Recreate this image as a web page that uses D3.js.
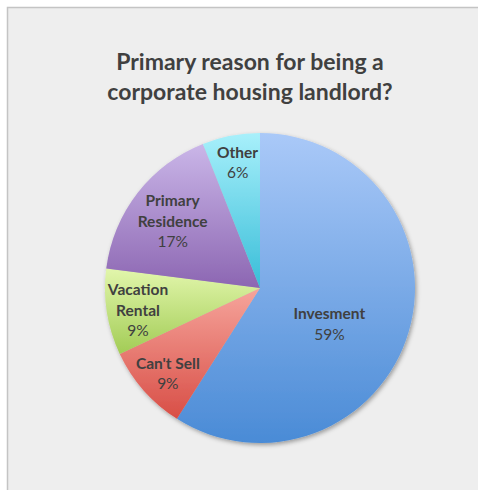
<!DOCTYPE html>
<html><head><meta charset="utf-8">
<script src="https://cdn.jsdelivr.net/npm/d3@7"></script>
<style>html,body{margin:0;padding:0;background:#fff;}svg{display:block;}</style>
</head><body>
<script>
const categories = ["Invesment", "Can't Sell", "Vacation Rental", "Primary Residence", "Other"];
const labelLines = [["Invesment"], ["Can't Sell"], ["Vacation", "Rental"], ["Primary", "Residence"], ["Other"]];
const values = [59, 9, 9, 17, 6];
const percentLabels = ["59%", "9%", "9%", "17%", "6%"];
const colorTop = ["#aac9f8", "#f6a59c", "#e2f6ac", "#cab6e8", "#a8f0fb"];
const colorBottom = ["#4a8bd6", "#d84e46", "#a2cc55", "#8c66b2", "#38bdd8"];
const titleLines = ["Primary reason for being a", "corporate housing landlord?"];

const W = 478, H = 490;
const svg = d3.select("body").append("svg").attr("width", W).attr("height", H);
const defs = svg.append("defs");

// frame
svg.append("rect").attr("x", 7.5).attr("y", 7.5).attr("width", W + 10).attr("height", H + 10)
  .attr("fill", "#eeeeee").attr("stroke", "#c4c4c4").attr("stroke-width", 1.5);

// title
const title = svg.append("text").attr("text-anchor", "middle")
  .attr("font-family", "Lato, 'Open Sans', sans-serif").attr("font-weight", "bold")
  .attr("font-size", 23).attr("fill", "#404040");
titleLines.forEach((t, i) => title.append("tspan").attr("x", 250).attr("y", 70 + i * 29.5).text(t));

// filters / gradients
const f = defs.append("filter").attr("id", "shadow").attr("x", "-10%").attr("y", "-10%").attr("width", "120%").attr("height", "120%");
f.append("feDropShadow").attr("dx", 1.5).attr("dy", 2).attr("stdDeviation", 2).attr("flood-color", "#000").attr("flood-opacity", 0.35);

categories.forEach((c, i) => {
  const g = defs.append("linearGradient").attr("id", "grad" + i).attr("x1", 0).attr("y1", 0).attr("x2", 0).attr("y2", 1);
  g.append("stop").attr("offset", "0%").attr("stop-color", colorTop[i]);
  g.append("stop").attr("offset", "100%").attr("stop-color", colorBottom[i]);
});

const cx = 260, cy = 288, r = 155;
const pie = d3.pie().sort(null).value(d => d)(values);
const arc = d3.arc().innerRadius(0).outerRadius(r);

const g = svg.append("g").attr("transform", `translate(${cx},${cy})`);
g.append("g").attr("filter", "url(#shadow)")
  .selectAll("path").data(pie).join("path")
  .attr("d", arc)
  .attr("fill", (d, i) => `url(#grad${i})`);

// labels (best-fit style: smaller slices pushed further out)
const lineH = 20.5;
pie.forEach((d, i) => {
  const big = (d.endAngle - d.startAngle) > Math.PI;
  const rho = big ? r * 0.52 : r * (0.9 - 0.01 * d.value);
  const la = d3.arc().innerRadius(rho).outerRadius(rho);
  let [x, y] = la.centroid(d);
  if (big) { x -= 8; y += 14; } else { x += 2; y += 3; }
  const lines = labelLines[i].map(t => ({t, bold: true})).concat([{t: percentLabels[i], bold: false}]);
  const total = lines.length * lineH;
  const t = g.append("text").attr("text-anchor", "middle")
    .attr("font-family", "Lato, 'Open Sans', sans-serif").attr("font-size", 15.5).attr("fill", "#404040");
  lines.forEach((l, j) => {
    t.append("tspan").attr("x", x).attr("y", y - total / 2 + j * lineH + lineH * 0.75)
      .attr("font-weight", l.bold ? "bold" : "normal").text(l.t);
  });
});
</script>
</body></html>
